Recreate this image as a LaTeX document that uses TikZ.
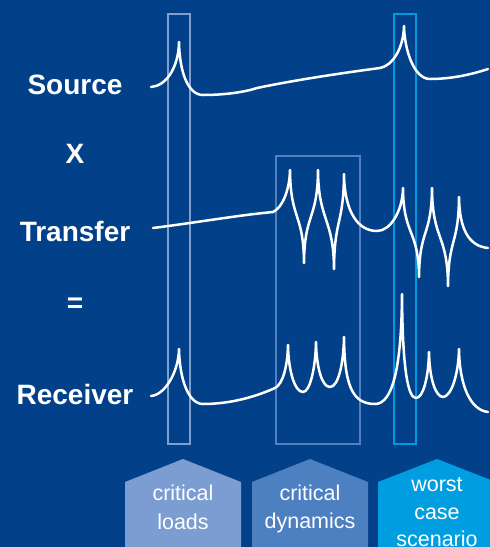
\documentclass[tikz,border=0pt]{standalone}
\usepackage{fontspec}
\setmainfont{Liberation Sans}
\definecolor{bg}{RGB}{2,65,137}
\definecolor{loadsline}{RGB}{128,158,208}
\definecolor{dynline}{RGB}{82,128,192}
\definecolor{worstline}{RGB}{0,155,222}
\definecolor{loadsfill}{RGB}{124,157,210}
\definecolor{dynfill}{RGB}{77,128,192}
\definecolor{worstfill}{RGB}{0,158,224}
\tikzset{
  wave/.style={white, line width=2.5pt, line cap=round, line join=round},
  hlbox/.style={line width=2pt, inner sep=0pt, anchor=north west},
  lefttext/.style={text=white, font=\fontsize{28}{31}\selectfont\bfseries, anchor=base},
  tagtext/.style={text=white, font=\fontsize{21.5}{24}\selectfont, anchor=base},
}
\begin{document}
\begin{tikzpicture}[x=1pt,y=-1pt]
\useasboundingbox (0,0) rectangle (490,547);
\fill[bg] (0,0) rectangle (490,547);

% highlight boxes
\node[hlbox, draw=loadsline, minimum width=22pt, minimum height=430pt] (boxloads) at (167,13) {};
\node[hlbox, draw=dynline, minimum width=84pt, minimum height=288pt] (boxdyn) at (275,155) {};
\node[hlbox, draw=worstline, minimum width=22pt, minimum height=430pt] (boxworst) at (393,13) {};

% left labels
\node[lefttext] (source) at (75,94) {Source};
\node[lefttext] (times) at (75,163) {X};
\node[lefttext] (transfer) at (75,241) {Transfer};
\node[lefttext] (equals) at (75,312) {=};
\node[lefttext] (receiver) at (75,404) {Receiver};

% source curve
\draw[wave] (151,87) .. controls (166,86) and (178.5,68) .. (179,42)
 .. controls (179.5,72) and (188,95) .. (203,95)
 .. controls (225,95) and (245,92) .. (257,88)
 .. controls (300,79) and (350,72) .. (380,68)
 .. controls (392,66) and (403.5,49) .. (404,26)
 .. controls (404.5,50) and (414,79) .. (430,79)
 .. controls (450,79) and (470,75) .. (488,69);

% transfer curve
\draw[wave] (153,228) .. controls (200,222) and (240,215) .. (273,212)
 .. controls (282,208) and (289.5,191) .. (290,170)
 .. controls (290.5,221) and (303.5,212) .. (304,263)
 .. controls (304.5,212) and (317.5,221) .. (318,170)
 .. controls (318.5,222) and (333.5,217) .. (334,269)
 .. controls (334.5,217) and (343.5,226) .. (344,174)
 .. controls (344.5,212) and (358,231) .. (377,231)
 .. controls (390,231) and (402.5,212) .. (403,188)
 .. controls (403.5,237) and (418.5,228) .. (419,277)
 .. controls (419.5,228) and (431.5,237) .. (432,188)
 .. controls (432.5,242) and (447.5,232) .. (448,286)
 .. controls (448.5,237) and (458.5,246) .. (459,197)
 .. controls (459.5,228) and (468,246) .. (488,248);

% receiver curve
\draw[wave] (151,396) .. controls (165,395) and (178.5,372) .. (179,349)
 .. controls (179.5,378) and (188,404) .. (203,404)
 .. controls (230,404) and (255,397) .. (275,388)
 .. controls (283,384) and (287.5,366) .. (288,345)
 .. controls (288.5,372) and (295,392) .. (303,392)
 .. controls (310,392) and (315.5,368) .. (316,342)
 .. controls (316.5,368) and (322,387) .. (330,387)
 .. controls (338,387) and (343.5,365) .. (344,337)
 .. controls (344.5,385) and (352,404) .. (375,404)
 .. controls (392,404) and (401.5,370) .. (402,294)
 .. controls (402.5,370) and (408,398) .. (416,398)
 .. controls (423,398) and (428.5,378) .. (429,352)
 .. controls (429.5,380) and (436,397) .. (443,397)
 .. controls (451,397) and (458.5,375) .. (459,349)
 .. controls (459.5,385) and (470,410) .. (488,412);

% tags
\begin{scope}
\clip (0,0) rectangle (490,547);
\fill[loadsfill] (125,548) -- (125,482) -- (183,459) -- (241,482) -- (241,548) -- cycle;
\fill[dynfill] (252,548) -- (252,482) -- (310,459) -- (368,482) -- (368,548) -- cycle;
\fill[worstfill] (378,548) -- (378,482) -- (437,459) -- (496,482) -- (496,548) -- cycle;
\end{scope}
\node[tagtext] (loads1) at (183,500) {critical};
\node[tagtext] (loads2) at (183,529) {loads};
\node[tagtext] (dyn1) at (310,500) {critical};
\node[tagtext] (dyn2) at (310,528) {dynamics};
\node[tagtext] (worst1) at (437,491) {worst};
\node[tagtext] (worst2) at (437,519) {case};
\node[tagtext] (worst3) at (437,546) {scenario};
\end{tikzpicture}
\end{document}
